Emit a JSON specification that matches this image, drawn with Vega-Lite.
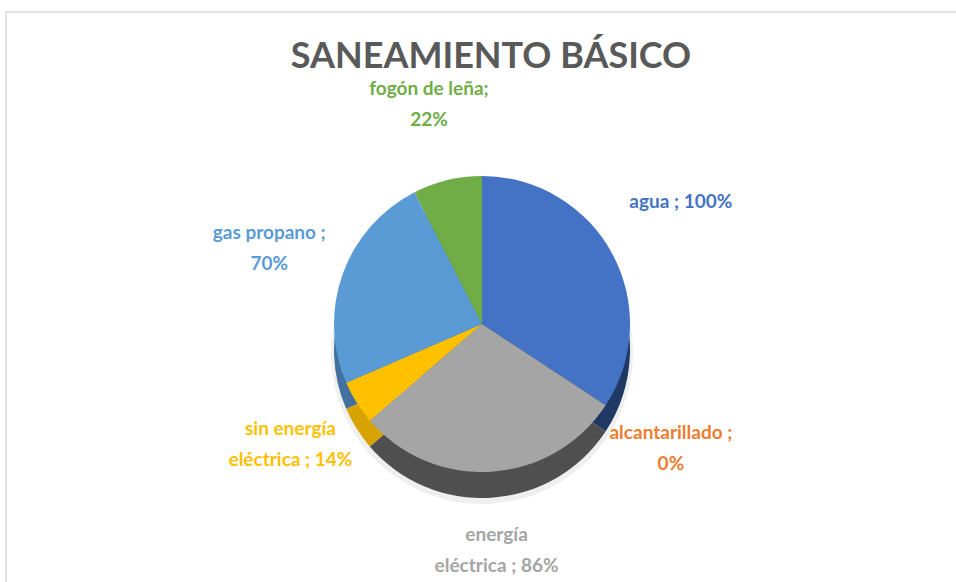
{
  "$schema": "https://vega.github.io/schema/vega-lite/v6.json",
  "width": 956,
  "height": 582,
  "autosize": {"type": "fit", "contains": "padding"},
  "padding": {"left": 6, "top": 12, "right": -2, "bottom": -54},
  "background": "white",
  "view": {"stroke": "#D9D9D9", "strokeWidth": 1.5},
  "config": {"view": {"stroke": "#D9D9D9", "strokeWidth": 1.5}, "style": {"cell": {"stroke": "#D9D9D9", "strokeWidth": 1.5}}},
  "title": {
    "text": "SANEAMIENTO BÁSICO",
    "font": "Lato",
    "fontSize": 36,
    "fontWeight": "bold",
    "color": "#595959",
    "anchor": "middle",
    "frame": "group",
    "offset": -64,
    "dx": 9
  },
  "data": {
    "values": [
      {"categoria": "agua", "valor": 100, "orden": 1, "etiqueta": "agua ; 100%"},
      {"categoria": "alcantarillado", "valor": 0, "orden": 2, "etiqueta": "alcantarillado ;\n0%"},
      {"categoria": "energía eléctrica", "valor": 86, "orden": 3, "etiqueta": "energía\neléctrica ; 86%"},
      {"categoria": "sin energía eléctrica", "valor": 14, "orden": 4, "etiqueta": "sin energía\neléctrica ; 14%"},
      {"categoria": "gas propano", "valor": 70, "orden": 5, "etiqueta": "gas propano ;\n70%"},
      {"categoria": "fogón de leña", "valor": 22, "orden": 6, "etiqueta": "fogón de leña;\n22%"}
    ]
  },
  "encoding": {
    "theta": {"field": "valor", "type": "quantitative", "stack": true},
    "order": {"field": "orden", "type": "quantitative"}
  },
  "layer": [
    {
      "mark": {"type": "arc", "outerRadius": 151, "yOffset": 29, "opacity": 0.12, "fill": "#7F7F7F"},
      "encoding": {}
    },
    {
      "mark": {"type": "arc", "outerRadius": 148, "yOffset": 26},
      "encoding": {
        "color": {
          "field": "categoria",
          "type": "nominal",
          "scale": {
            "domain": ["agua", "alcantarillado", "energía eléctrica", "sin energía eléctrica", "gas propano", "fogón de leña"],
            "range": ["#1F3864", "#C55A11", "#4F4F4F", "#D6A300", "#41719C", "#507E32"]
          },
          "legend": null
        }
      }
    },
    {
      "mark": {"type": "arc", "outerRadius": 148},
      "encoding": {
        "color": {
          "field": "categoria",
          "type": "nominal",
          "scale": {
            "domain": ["agua", "alcantarillado", "energía eléctrica", "sin energía eléctrica", "gas propano", "fogón de leña"],
            "range": ["#4472C4", "#ED7D31", "#A5A5A5", "#FFC000", "#5B9BD5", "#70AD47"]
          },
          "legend": null
        }
      }
    },
    {
      "mark": {"type": "text", "radius": 226, "dy": -15, "font": "Lato", "fontSize": 19, "fontWeight": "bold", "lineBreak": "\n", "lineHeight": 31},
      "encoding": {
        "text": {"field": "etiqueta", "type": "nominal"},
        "color": {
          "field": "categoria",
          "type": "nominal",
          "scale": {
            "domain": ["agua", "alcantarillado", "energía eléctrica", "sin energía eléctrica", "gas propano", "fogón de leña"],
            "range": ["#4472C4", "#ED7D31", "#A5A5A5", "#FFC000", "#5B9BD5", "#70AD47"]
          },
          "legend": null
        }
      }
    }
  ],
  "resolve": {"scale": {"color": "independent"}}
}
